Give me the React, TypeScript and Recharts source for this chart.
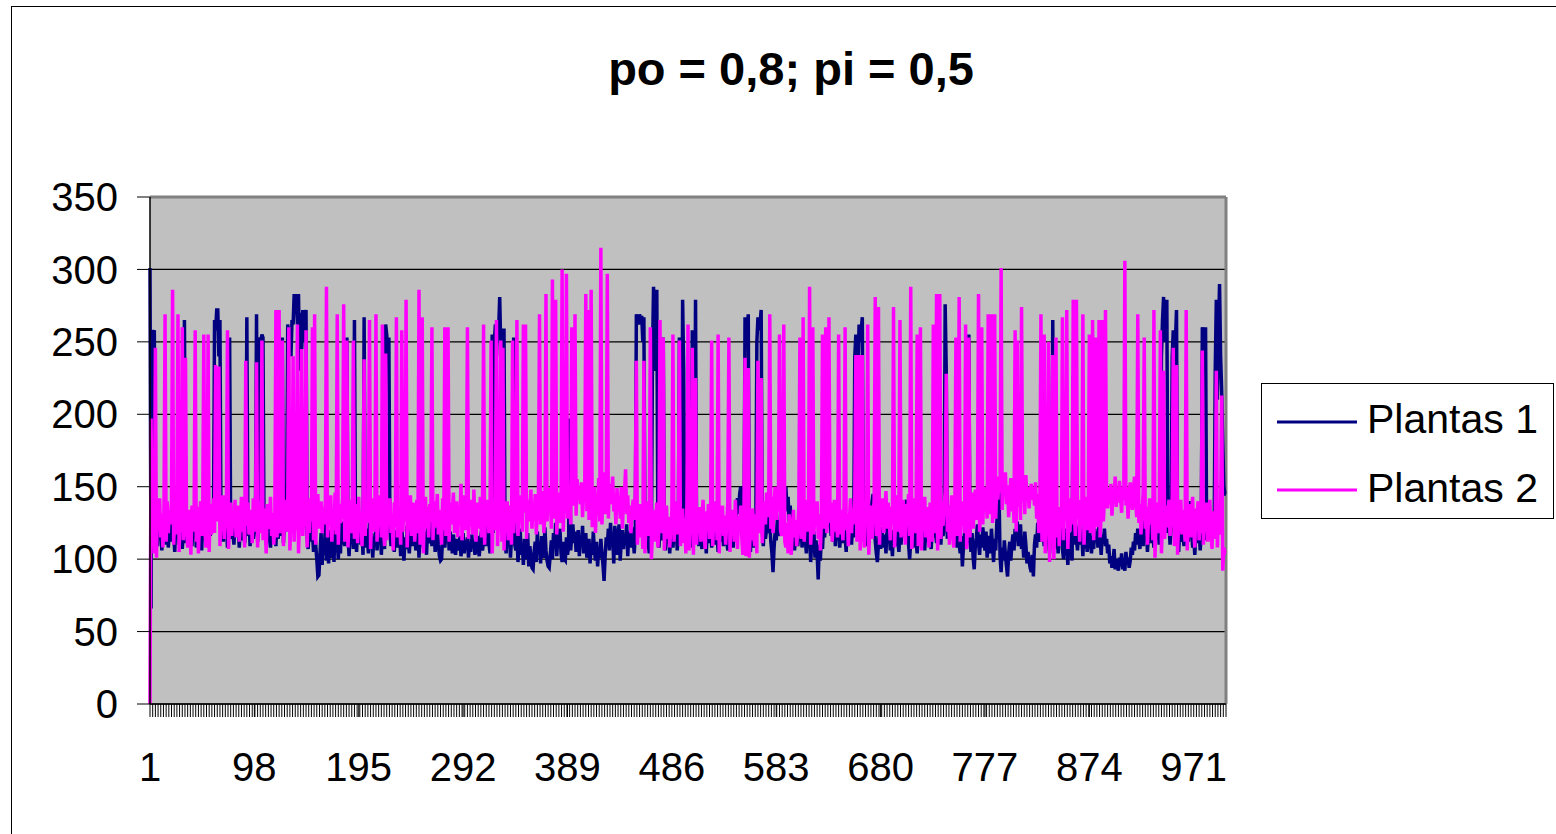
import { CartesianGrid, Legend, Line, LineChart, ReferenceLine, XAxis, YAxis } from "recharts";

const FONT = '"Liberation Sans", Arial, Helvetica, sans-serif';

const title = "po = 0,8; pi = 0,5";
const seriesNames = ["Plantas 1", "Plantas 2"];
const xLabels = [1, 98, 195, 292, 389, 486, 583, 680, 777, 874, 971];
const yTicks = [0, 50, 100, 150, 200, 250, 300, 350];

// Plantas 1 (navy), one value per step, 20 per row
const plantas1: number[] = [
  301, 66, 258, 256, 258, 118, 125, 109, 131, 114, 122, 106, 128, 117, 124, 110, 133, 108, 120, 127,
  112, 129, 118, 105, 126, 115, 132, 110, 121, 128, 107, 119, 265, 111, 124, 116, 130, 113, 122, 109,
  126, 117, 131, 108, 123, 114, 128, 119, 106, 125, 132, 113, 120, 127, 110, 124, 116, 133, 121, 128,
  265, 258, 272, 272, 240, 265, 118, 126, 112, 130, 115, 123, 108, 127, 253, 114, 129, 119, 110, 125,
  117, 131, 120, 108, 126, 113, 129, 121, 111, 124, 267, 116, 130, 109, 122, 127, 114, 119, 132, 269,
  112, 125, 253, 250, 255, 253, 118, 126, 110, 121, 129, 115, 108, 124, 131, 117, 122, 109, 127, 114,
  120, 128, 116, 253, 111, 125, 119, 130, 262, 255, 258, 240, 265, 262, 283, 275, 283, 262, 283, 230,
  270, 245, 272, 250, 268, 272, 115, 107, 124, 112, 130, 118, 105, 121, 110, 100, 88, 89, 104, 118,
  96, 114, 103, 125, 99, 111, 97, 120, 108, 101, 115, 98, 122, 106, 112, 100, 118, 104, 126, 110,
  121, 109, 127, 253, 115, 102, 119, 111, 124, 107, 265, 116, 105, 122, 113, 128, 110, 119, 103, 267,
  108, 121, 114, 104, 126, 112, 118, 101, 115, 109, 123, 106, 117, 111, 125, 103, 119, 113, 107, 262,
  255, 240, 253, 118, 109, 124, 112, 105, 120, 114, 108, 126, 117, 102, 121, 110, 99, 115, 107, 123,
  112, 104, 119, 127, 109, 116, 123, 106, 113, 120, 101, 117, 110, 125, 108, 119, 114, 103, 122, 111,
  118, 126, 109, 115, 121, 105, 113, 124, 110, 102, 99, 100, 116, 123, 108, 118, 112, 125, 106, 119,
  113, 104, 117, 108, 103, 114, 110, 106, 116, 102, 109, 118, 104, 112, 107, 115, 101, 111, 105, 117,
  108, 113, 103, 110, 116, 107, 102, 114, 119, 106, 112, 121, 109, 117, 124, 111, 104, 120, 255, 118,
  250, 262, 240, 265, 258, 281, 245, 230, 258, 258, 112, 104, 118, 109, 123, 101, 115, 120, 253, 110,
  106, 117, 98, 112, 121, 103, 110, 96, 114, 107, 100, 118, 95, 109, 101, 94, 93, 105, 112, 98,
  119, 104, 111, 97, 116, 108, 101, 122, 106, 99, 95, 94, 103, 113, 100, 118, 107, 125, 102, 115,
  109, 121, 104, 98, 112, 100, 99, 115, 103, 108, 197, 106, 117, 124, 111, 119, 105, 113, 120, 102,
  116, 109, 123, 104, 112, 118, 101, 107, 114, 97, 110, 103, 119, 106, 99, 112, 95, 108, 101, 114,
  104, 96, 85, 102, 115, 109, 121, 106, 125, 112, 118, 97, 123, 110, 103, 118, 124, 99, 113, 120,
  107, 116, 111, 124, 102, 119, 113, 108, 122, 115, 104, 117, 269, 266, 262, 269, 264, 268, 250, 267,
  118, 109, 125, 112, 104, 121, 115, 243, 288, 230, 250, 286, 120, 108, 126, 113, 119, 253, 116, 106,
  122, 111, 128, 104, 117, 125, 108, 119, 113, 124, 106, 118, 253, 112, 120, 279, 230, 115, 123, 109,
  127, 114, 120, 108, 258, 117, 125, 279, 112, 121, 109, 126, 115, 107, 122, 113, 118, 104, 124, 111,
  119, 126, 108, 114, 121, 110, 127, 116, 105, 118, 123, 112, 128, 109, 117, 124, 113, 106, 120, 128,
  114, 121, 108, 126, 117, 136, 142, 131, 145, 150, 127, 134, 118, 267, 262, 255, 269, 112, 105, 121,
  113, 108, 124, 117, 250, 267, 258, 263, 272, 119, 109, 126, 114, 121, 130, 118, 125, 112, 104, 91,
  108, 119, 113, 127, 122, 116, 131, 141, 135, 148, 139, 150, 133, 143, 126, 137, 121, 112, 119, 106,
  116, 125, 109, 118, 113, 127, 108, 120, 131, 114, 104, 122, 110, 117, 98, 112, 105, 119, 101, 113,
  104, 86, 110, 99, 118, 107, 124, 115, 136, 128, 140, 122, 131, 116, 127, 112, 120, 109, 126, 114,
  121, 108, 118, 125, 111, 130, 116, 105, 123, 113, 128, 119, 110, 126, 115, 240, 255, 248, 230, 262,
  250, 258, 267, 120, 112, 127, 115, 109, 124, 118, 131, 140, 145, 126, 113, 104, 98, 111, 119, 107,
  122, 113, 108, 117, 104, 125, 111, 119, 106, 114, 102, 120, 116, 109, 123, 112, 105, 118, 110, 126,
  115, 128, 134, 141, 119, 110, 100, 113, 122, 108, 117, 125, 111, 104, 119, 114, 127, 109, 121, 116,
  106, 124, 112, 118, 129, 113, 107, 122, 115, 130, 119, 111, 126, 117, 123, 110, 128, 116, 121, 276,
  230, 114, 125, 131, 127, 137, 120, 112, 126, 115, 108, 121, 110, 104, 116, 95, 109, 118, 107, 113,
  120, 255, 112, 105, 118, 101, 93, 109, 115, 124, 111, 103, 117, 108, 122, 113, 106, 119, 101, 110,
  116, 104, 121, 109, 98, 114, 106, 125, 136, 149, 102, 91, 108, 99, 113, 103, 95, 88, 104, 112,
  99, 110, 117, 106, 121, 113, 126, 109, 118, 124, 107, 115, 101, 119, 110, 97, 105, 99, 94, 91,
  103, 88, 110, 117, 108, 125, 119, 112, 123, 114, 121, 109, 117, 111, 126, 115, 104, 120, 112, 265,
  113, 122, 108, 116, 104, 119, 111, 126, 107, 100, 115, 121, 109, 96, 112, 118, 105, 99, 227, 110,
  123, 114, 106, 119, 125, 110, 117, 102, 120, 129, 113, 105, 118, 124, 111, 104, 116, 107, 121, 113,
  119, 108, 126, 115, 103, 117, 111, 121, 109, 114, 104, 110, 97, 102, 94, 99, 107, 93, 100, 96,
  92, 101, 95, 104, 93, 98, 92, 105, 97, 101, 94, 99, 108, 103, 112, 106, 118, 110, 121, 114,
  107, 124, 116, 109, 127, 113, 120, 105, 118, 125, 111, 130, 117, 108, 122, 114, 128, 119, 110, 124,
  240, 265, 281, 250, 270, 279, 118, 126, 110, 121, 240, 258, 235, 250, 272, 114, 105, 120, 112, 127,
  116, 109, 123, 135, 118, 112, 126, 140, 121, 108, 115, 103, 119, 128, 111, 124, 106, 117, 260, 255,
  250, 260, 113, 125, 119, 131, 122, 114, 128, 117, 230, 279, 210, 255, 290, 240, 216, 180, 150, 145,
  145,
];

// Plantas 2 (magenta), one value per step, 20 per row
const plantas2: number[] = [
  0, 197, 112, 135, 104, 246, 101, 138, 120, 142, 115, 131, 108, 136, 269, 112, 140, 118, 133, 124,
  139, 286, 110, 131, 117, 141, 269, 105, 128, 119, 260, 113, 142, 239, 121, 108, 134, 126, 103, 137,
  119, 130, 258, 112, 136, 104, 127, 140, 116, 131, 255, 121, 108, 133, 255, 105, 138, 117, 129, 142,
  118, 234, 126, 137, 233, 109, 131, 120, 144, 114, 128, 136, 258, 107, 125, 139, 116, 133, 122, 141,
  115, 129, 137, 112, 126, 143, 119, 131, 108, 237, 123, 139, 117, 128, 134, 111, 142, 125, 119, 236,
  108, 131, 140, 118, 251, 113, 135, 124, 104, 138, 121, 129, 143, 116, 132, 110, 127, 272, 115, 134,
  272, 118, 136, 251, 109, 128, 141, 119, 133, 260, 106, 125, 138, 240, 112, 131, 120, 262, 104, 127,
  139, 245, 116, 130, 123, 258, 108, 135, 118, 142, 126, 260, 113, 269, 110, 137, 145, 121, 132, 140,
  118, 136, 124, 141, 288, 115, 139, 127, 144, 112, 133, 120, 146, 117, 269, 110, 138, 125, 131, 143,
  276, 112, 134, 251, 108, 129, 141, 118, 135, 251, 114, 138, 126, 111, 143, 120, 132, 109, 137, 238,
  116, 140, 125, 133, 265, 107, 128, 142, 119, 131, 269, 112, 137, 124, 144, 115, 262, 121, 109, 242,
  113, 135, 127, 142, 118, 131, 106, 139, 122, 267, 115, 136, 128, 110, 258, 119, 141, 126, 279, 108,
  133, 120, 144, 116, 130, 139, 112, 127, 141, 118, 286, 110, 134, 267, 104, 129, 143, 121, 136, 115,
  138, 126, 260, 113, 140, 122, 131, 145, 117, 134, 128, 110, 142, 120, 260, 116, 137, 260, 112, 139,
  124, 133, 146, 118, 129, 140, 115, 136, 125, 152, 113, 131, 144, 120, 127, 260, 114, 138, 123, 141,
  117, 148, 126, 112, 139, 130, 121, 143, 115, 134, 262, 110, 137, 125, 141, 118, 129, 251, 104, 132,
  120, 138, 265, 109, 127, 136, 251, 112, 246, 106, 131, 119, 140, 113, 128, 137, 110, 251, 118, 134,
  125, 265, 116, 139, 128, 144, 119, 262, 132, 262, 114, 141, 126, 135, 148, 121, 138, 129, 145, 117,
  133, 142, 269, 124, 139, 147, 118, 130, 283, 126, 144, 135, 149, 121, 293, 128, 140, 279, 117, 136,
  146, 125, 138, 300, 119, 141, 132, 297, 128, 144, 151, 124, 260, 137, 147, 269, 130, 155, 142, 150,
  138, 153, 129, 146, 141, 283, 133, 272, 127, 144, 286, 122, 139, 150, 118, 143, 134, 156, 126, 315,
  124, 147, 160, 131, 142, 297, 128, 152, 138, 145, 157, 133, 141, 124, 149, 136, 143, 128, 150, 121,
  139, 146, 162, 131, 144, 125, 137, 118, 133, 141, 127, 146, 237, 110, 129, 138, 115, 132, 107, 237,
  104, 128, 140, 116, 125, 260, 100, 119, 134, 112, 127, 139, 108, 122, 265, 118, 131, 253, 106, 126,
  137, 114, 129, 108, 121, 133, 255, 112, 126, 140, 117, 131, 251, 109, 124, 135, 111, 128, 104, 138,
  262, 106, 125, 118, 246, 103, 131, 225, 110, 127, 120, 136, 112, 129, 141, 117, 107, 133, 122, 138,
  114, 126, 251, 109, 132, 119, 140, 113, 255, 104, 128, 121, 137, 116, 130, 110, 125, 139, 253, 105,
  127, 118, 134, 112, 141, 120, 107, 130, 123, 137, 115, 103, 128, 239, 102, 121, 232, 101, 126, 113,
  135, 120, 109, 131, 104, 237, 118, 127, 225, 111, 133, 140, 124, 146, 129, 137, 269, 121, 143, 118,
  138, 150, 127, 144, 133, 255, 120, 116, 139, 262, 112, 108, 125, 104, 131, 118, 103, 122, 134, 115,
  127, 109, 121, 136, 253, 114, 130, 267, 112, 129, 141, 119, 133, 288, 110, 126, 260, 117, 135, 123,
  140, 114, 131, 106, 127, 255, 121, 136, 260, 118, 133, 267, 125, 139, 112, 128, 141, 119, 130, 115,
  255, 117, 134, 126, 113, 138, 260, 120, 131, 109, 127, 142, 118, 135, 124, 139, 241, 112, 128, 241,
  106, 131, 241, 119, 108, 134, 125, 262, 103, 121, 137, 114, 129, 141, 281, 116, 132, 274, 110, 138,
  126, 142, 118, 135, 147, 121, 139, 128, 113, 136, 124, 274, 108, 131, 144, 119, 137, 265, 115, 133,
  141, 122, 110, 138, 127, 145, 116, 288, 107, 130, 142, 118, 134, 255, 109, 125, 260, 106, 131, 120,
  143, 115, 136, 124, 108, 139, 127, 112, 262, 118, 133, 283, 106, 129, 283, 114, 140, 123, 135, 147,
  228, 119, 137, 110, 131, 144, 121, 108, 134, 253, 116, 129, 281, 112, 140, 125, 137, 118, 262, 107,
  132, 253, 115, 138, 146, 121, 135, 148, 127, 141, 283, 119, 133, 260, 124, 150, 137, 144, 128, 269,
  131, 146, 269, 125, 139, 269, 128, 152, 141, 157, 146, 301, 134, 155, 147, 160, 138, 151, 129, 144,
  156, 133, 148, 125, 258, 119, 251, 136, 153, 127, 274, 140, 149, 131, 158, 143, 150, 135, 147, 152,
  141, 149, 137, 153, 128, 145, 118, 139, 269, 112, 131, 255, 104, 126, 138, 250, 98, 121, 133, 241,
  100, 127, 253, 115, 136, 109, 130, 121, 267, 113, 138, 126, 272, 107, 132, 119, 142, 124, 279, 133,
  116, 279, 128, 141, 112, 135, 124, 269, 110, 131, 143, 120, 137, 255, 118, 129, 265, 113, 134, 253,
  122, 139, 265, 115, 131, 265, 126, 140, 272, 143, 135, 149, 138, 152, 130, 145, 141, 157, 136, 148,
  139, 154, 143, 132, 150, 141, 306, 137, 149, 128, 146, 153, 140, 134, 148, 157, 142, 129, 269, 125,
  138, 117, 133, 146, 253, 121, 136, 110, 129, 142, 124, 135, 113, 272, 101, 127, 139, 118, 132, 258,
  104, 126, 230, 114, 137, 122, 131, 141, 116, 128, 139, 246, 109, 125, 234, 103, 130, 121, 141, 117,
  134, 127, 112, 272, 106, 129, 138, 115, 131, 143, 120, 108, 135, 126, 140, 113, 129, 118, 244, 110,
  132, 124, 139, 112, 127, 141, 118, 107, 133, 125, 114, 230, 108, 129, 117, 134, 213, 92, 108, 104,
  104,
];

const data = plantas1.map((v, i) => ({ idx: i + 1, p1: v, p2: plantas2[i] }));

// dense minor tick marks plus the labelled ones
const xTicks: number[] = [];
for (let t = 1; t <= 1001; t += 2.5) xTicks.push(t);
xLabels.forEach((l) => {
  if (!xTicks.includes(l)) xTicks.push(l);
});
xTicks.sort((a, b) => a - b);

function XTick(props: any) {
  const { x, y, payload } = props;
  const v = payload.value;
  return (
    <g>
      <line x1={x} x2={x} y1={y} y2={y + 13} stroke="#000" strokeWidth={1} />
      {xLabels.includes(v) && (
        <text x={x} y={y + 77} textAnchor="middle" fontSize={40} fontFamily={FONT} fill="#000">
          {v}
        </text>
      )}
    </g>
  );
}

function LegendBox(props: any) {
  const items = props.payload ?? [];
  return (
    <svg width={293} height={136} style={{ display: "block" }}>
      <rect x={0.5} y={0.5} width={292} height={135} fill="#fff" stroke="#000" />
      {items.map((item: any, i: number) => (
        <g key={item.value}>
          <line x1={16} x2={96} y1={39 + i * 68} y2={39 + i * 68} stroke={item.color} strokeWidth={3} />
          <text x={106} y={50 + i * 69} fontSize={41} fontFamily={FONT} fill="#000">
            {item.value}
          </text>
        </g>
      ))}
    </svg>
  );
}

export default function App() {
  return (
    <div
      style={{
        position: "absolute",
        left: 0,
        top: 0,
        width: 1556,
        height: 834,
        overflow: "hidden",
        background: "#fff",
        fontFamily: FONT,
      }}
    >
      <div
        style={{
          position: "absolute",
          left: 11,
          top: 6,
          width: 1600,
          height: 900,
          border: "1.5px solid #000",
        }}
      />
      <div
        style={{
          position: "absolute",
          left: 391,
          top: 45,
          width: 800,
          textAlign: "center",
          fontSize: 47,
          lineHeight: "47px",
          fontWeight: "bold",
          color: "#000",
        }}
      >
        {title}
      </div>
      <div style={{ position: "absolute", left: 0, top: 0 }}>
        <LineChart width={1556} height={834} data={data} margin={{ top: 197, right: 330, bottom: 30, left: 50 }}>
          <CartesianGrid vertical={false} stroke="#000" strokeWidth={1.2} fill="#C0C0C0" fillOpacity={1} />
          <XAxis
            type="number"
            dataKey="idx"
            domain={[1, 1001]}
            ticks={xTicks}
            interval={0}
            tick={XTick}
            tickSize={0}
            tickMargin={0}
            tickLine={false}
            axisLine={{ stroke: "#000", strokeWidth: 1.5 }}
            height={100}
          />
          <YAxis
            domain={[0, 350]}
            ticks={yTicks}
            interval={0}
            width={100}
            tickSize={13}
            tickMargin={19}
            tickLine={{ stroke: "#000" }}
            axisLine={{ stroke: "#000", strokeWidth: 1.5 }}
            tick={{ fill: "#000", fontSize: 40, fontFamily: FONT }}
          />
          <ReferenceLine y={350} stroke="#808080" strokeWidth={3} />
          <ReferenceLine x={1001} stroke="#808080" strokeWidth={3} />
          <Line
            type="linear"
            dataKey="p1"
            name={seriesNames[0]}
            stroke="#000080"
            strokeWidth={3.5}
            dot={false}
            isAnimationActive={false}
          />
          <Line
            type="linear"
            dataKey="p2"
            name={seriesNames[1]}
            stroke="#FF00FF"
            strokeWidth={3.5}
            dot={false}
            isAnimationActive={false}
          />
          <Legend
            layout="vertical"
            verticalAlign="middle"
            align="center"
            content={LegendBox}
            wrapperStyle={{ left: 1261, top: 383, width: 293, height: 136 }}
          />
        </LineChart>
      </div>
    </div>
  );
}
